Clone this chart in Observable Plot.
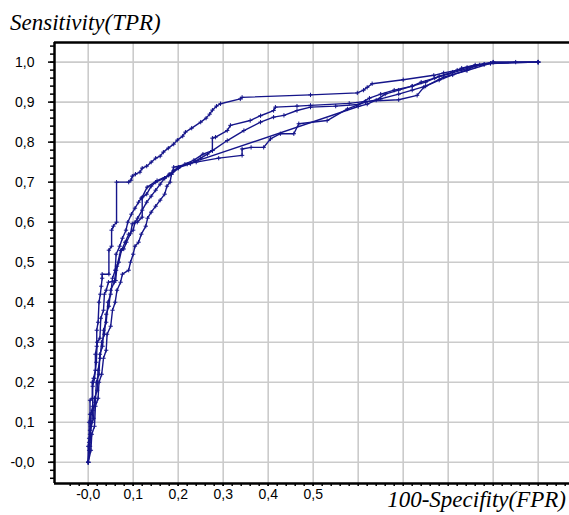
<!DOCTYPE html>
<html>
<head>
<meta charset="utf-8">
<script src="https://cdn.jsdelivr.net/npm/d3@7"></script>
<script src="https://cdn.jsdelivr.net/npm/@observablehq/plot@0.6"></script>
<style>
  html, body { margin: 0; padding: 0; background: #fff; }
  #wrap { position: relative; width: 569px; height: 515px; }
</style>
</head>
<body>
<div id="wrap">
  <div id="chart"></div>
  <div id="ytitle" style="position:absolute; left:10px; top:10.7px; font-family:'Liberation Serif' !important; font-style:italic; font-size:23px; line-height:23px; white-space:nowrap; color:#000;"></div>
  <div id="xtitle" style="position:absolute; right:3px; top:487.7px; font-family:'Liberation Serif' !important; font-style:italic; font-size:23px; line-height:23px; white-space:nowrap; color:#000;"></div>
</div>
<script>
// ---- data (FPR, TPR) ----
const curveA = [[0,0],[0,0.04],[0.002,0.06],[0.002,0.1],[0.004,0.12],[0.004,0.155],[0.009,0.16],[0.009,0.2],[0.012,0.21],[0.016,0.23],[0.016,0.27],[0.019,0.29],[0.019,0.33],[0.022,0.35],[0.024,0.4],[0.027,0.42],[0.029,0.44],[0.031,0.46],[0.031,0.47],[0.046,0.47],[0.046,0.53],[0.052,0.54],[0.052,0.58],[0.056,0.59],[0.063,0.6],[0.063,0.70],[0.09,0.7],[0.095,0.705],[0.098,0.715],[0.105,0.72],[0.115,0.725],[0.12,0.735],[0.13,0.74],[0.14,0.75],[0.15,0.76],[0.16,0.765],[0.167,0.775],[0.178,0.785],[0.19,0.795],[0.198,0.805],[0.21,0.815],[0.216,0.825],[0.23,0.835],[0.25,0.85],[0.262,0.86],[0.27,0.87],[0.276,0.88],[0.285,0.89],[0.294,0.896],[0.338,0.908],[0.342,0.912],[0.494,0.918],[0.598,0.923],[0.612,0.93],[0.62,0.937],[0.631,0.946],[0.7,0.956],[0.768,0.967],[0.79,0.973],[0.82,0.98],[0.842,0.987],[0.87,0.993],[0.894,0.997],[1.0,1.0]];
const curveB = [[0,0],[0.002,0.05],[0.004,0.08],[0.006,0.12],[0.01,0.14],[0.01,0.19],[0.014,0.21],[0.018,0.25],[0.02,0.3],[0.026,0.31],[0.028,0.36],[0.034,0.38],[0.036,0.42],[0.04,0.43],[0.045,0.45],[0.061,0.454],[0.064,0.49],[0.072,0.529],[0.079,0.533],[0.085,0.55],[0.094,0.571],[0.098,0.596],[0.109,0.6],[0.12,0.6125],[0.12,0.6625],[0.131,0.6875],[0.153,0.704],[0.179,0.717],[0.19,0.729],[0.201,0.7375],[0.227,0.746],[0.25,0.76],[0.265,0.77],[0.276,0.779],[0.276,0.81],[0.283,0.8125],[0.309,0.829],[0.316,0.842],[0.36,0.854],[0.383,0.866],[0.412,0.879],[0.416,0.8875],[0.464,0.89],[0.494,0.892],[0.58,0.897],[0.616,0.902],[0.69,0.906],[0.731,0.917],[0.746,0.9375],[0.79,0.9625],[0.842,0.979],[0.894,0.997],[1,1]];
const curveC = [[0,0],[0.004,0.04],[0.006,0.09],[0.012,0.11],[0.014,0.16],[0.02,0.18],[0.022,0.23],[0.026,0.26],[0.03,0.3],[0.036,0.32],[0.04,0.37],[0.046,0.39],[0.05,0.43],[0.058,0.45],[0.062,0.48],[0.068,0.5],[0.074,0.53],[0.082,0.55],[0.09,0.57],[0.1,0.58],[0.104,0.6],[0.11,0.61],[0.12,0.63],[0.13,0.65],[0.14,0.665],[0.15,0.68],[0.16,0.695],[0.17,0.71],[0.185,0.72],[0.2,0.735],[0.215,0.745],[0.235,0.755],[0.255,0.77],[0.276,0.779],[0.309,0.804],[0.346,0.829],[0.383,0.85],[0.412,0.8625],[0.435,0.867],[0.464,0.879],[0.494,0.8875],[0.55,0.89],[0.6,0.894],[0.625,0.91],[0.65,0.92],[0.68,0.93],[0.72,0.94],[0.74,0.95],[0.77,0.96],[0.8,0.97],[0.83,0.98],[0.86,0.99],[0.88,0.995],[0.95,1],[1,1]];
const curveD = [[0,0],[0.006,0.03],[0.008,0.07],[0.014,0.09],[0.016,0.14],[0.022,0.16],[0.024,0.2],[0.03,0.22],[0.034,0.26],[0.04,0.28],[0.042,0.32],[0.05,0.34],[0.054,0.38],[0.06,0.4],[0.064,0.43],[0.072,0.45],[0.076,0.47],[0.09,0.48],[0.094,0.5],[0.1,0.52],[0.104,0.54],[0.112,0.55],[0.118,0.57],[0.128,0.59],[0.132,0.61],[0.14,0.625],[0.15,0.64],[0.16,0.655],[0.17,0.67],[0.175,0.69],[0.182,0.7],[0.185,0.72],[0.19,0.7375],[0.24,0.75],[0.29,0.76],[0.342,0.767],[0.342,0.783],[0.362,0.787],[0.39,0.787],[0.405,0.808],[0.427,0.821],[0.457,0.821],[0.468,0.846],[0.531,0.854],[0.576,0.883],[0.616,0.9],[0.65,0.908],[0.69,0.92],[0.72,0.93],[0.75,0.94],[0.78,0.955],[0.81,0.968],[0.84,0.98],[0.86,0.99],[0.88,0.994],[0.9,1],[1,1]];
const curveE = [[0,0],[0.002,0.03],[0.004,0.07],[0.008,0.1],[0.01,0.13],[0.016,0.15],[0.018,0.2],[0.024,0.22],[0.026,0.27],[0.032,0.29],[0.034,0.33],[0.04,0.35],[0.044,0.4],[0.05,0.42],[0.054,0.46],[0.06,0.48],[0.062,0.52],[0.07,0.54],[0.076,0.56],[0.084,0.58],[0.088,0.6],[0.096,0.62],[0.104,0.635],[0.112,0.65],[0.118,0.66],[0.13,0.67],[0.14,0.69],[0.15,0.7],[0.17,0.71],[0.18,0.72],[0.2,0.735],[0.22,0.745],[0.6,0.889],[0.62,0.895],[0.64,0.905],[0.66,0.92],[0.69,0.93],[0.72,0.94],[0.75,0.95],[0.78,0.965],[0.81,0.975],[0.83,0.985],[0.86,0.993],[0.9,1],[1,1]];

const curveNames = ["A", "B", "C", "D", "E"];
const curveData = [curveA, curveB, curveC, curveD, curveE];

// ticks
const yTickValues = [0, 0.1, 0.2, 0.3, 0.4, 0.5, 0.6, 0.7, 0.8, 0.9, 1.0];
const yTickLabels = ["-0,0", "0,1", "0,2", "0,3", "0,4", "0,5", "0,6", "0,7", "0,8", "0,9", "1,0"];
const xTickValues = [0, 0.1, 0.2, 0.3, 0.4, 0.5];
const xTickLabels = ["-0,0", "0,1", "0,2", "0,3", "0,4", "0,5"];
const xGridValues = [0, 0.1, 0.2, 0.3, 0.4, 0.5, 0.6, 0.7, 0.8, 0.9, 1.0];
const yGridValues = yTickValues;
const xMinorTicks = d3.range(-2, 54).map(i => i / 50);
const yMinorTicks = d3.range(-2, 53).map(i => i / 50);

const yTitle = "Sensitivity(TPR)";
const xTitle = "100-Specifity(FPR)";

// ---- build table ----
const rows = curveData.flatMap((pts, k) => pts.map(([fpr, tpr]) => ({curve: curveNames[k], fpr, tpr})));

const xDomain = [-0.0749, 1.0696];
const yDomain = [-0.053, 1.049];
const lineColor = "#15158a";

const labelOf = (vals, labels) => d => labels[vals.findIndex(v => Math.abs(v - d) < 1e-9)];

const chart = Plot.plot({
  width: 569,
  height: 515,
  marginLeft: 54,
  marginRight: 0,
  marginTop: 42,
  marginBottom: 32,
  style: {fontFamily: "'Liberation Sans', Arial, sans-serif", fontSize: "14px", background: "#fff", color: "#000"},
  x: {domain: xDomain, label: null},
  y: {domain: yDomain, label: null},
  marks: [
    Plot.gridX(xGridValues, {stroke: "#cbcbcb", strokeOpacity: 1, strokeWidth: 1.6}),
    Plot.gridY(yGridValues, {stroke: "#cbcbcb", strokeOpacity: 1, strokeWidth: 1.6}),
    Plot.axisY(yMinorTicks, {anchor: "left", tickSize: 4, tickFormat: () => "", strokeWidth: 1.5, label: null}),
    Plot.axisY(yTickValues, {anchor: "left", tickSize: 6, tickPadding: 14, tickFormat: labelOf(yTickValues, yTickLabels), strokeWidth: 1.5, fontSize: 14, label: null}),
    Plot.axisX(xMinorTicks, {anchor: "bottom", tickSize: 3, tickFormat: () => "", strokeWidth: 1.5, label: null}),
    Plot.axisX(xTickValues, {anchor: "bottom", tickSize: 3, tickPadding: 3, tickFormat: labelOf(xTickValues, xTickLabels), strokeWidth: 1.5, fontSize: 14, label: null}),
    Plot.line(rows, {x: "fpr", y: "tpr", z: "curve", stroke: lineColor, strokeWidth: 1.4}),
    Plot.dot(rows, {x: "fpr", y: "tpr", symbol: "plus", r: 1.5, stroke: lineColor, strokeWidth: 1}),
    Plot.ruleY([yDomain[1]], {stroke: "#000", strokeWidth: 2.5}),
    Plot.ruleY([yDomain[0]], {stroke: "#000", strokeWidth: 2.5}),
    Plot.ruleX([xDomain[0]], {stroke: "#000", strokeWidth: 2.5})
  ]
});
document.getElementById("chart").appendChild(chart);
const yt = document.getElementById("ytitle");
const xt = document.getElementById("xtitle");
yt.textContent = yTitle;
xt.textContent = xTitle;
yt.style.setProperty("font-family", "'Liberation Serif'", "important");
xt.style.setProperty("font-family", "'Liberation Serif'", "important");
</script>
</body>
</html>
